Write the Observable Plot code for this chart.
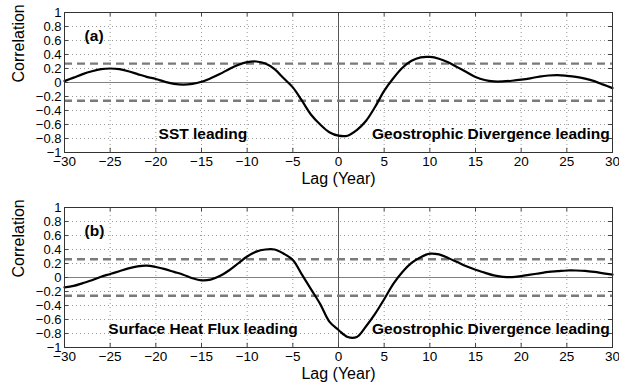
<!DOCTYPE html>
<html><head><meta charset="utf-8">
<script src="https://cdn.jsdelivr.net/npm/d3@7"></script>
<script src="https://cdn.jsdelivr.net/npm/@observablehq/plot@0.6"></script>
<style>
body{margin:0;background:#fff}
#c{width:619px;height:388px;overflow:hidden}
#c svg{display:block}
</style>
</head><body><div id="c"></div><script>
const lags = [-30,-29,-28,-27,-26,-25,-24,-23,-22,-21,-20,-19,-18,-17,-16,-15,-14,-13,-12,-11,-10,-9,-8,-7,-6,-5,-4,-3,-2,-1,0,1,2,3,4,5,6,7,8,9,10,11,12,13,14,15,16,17,18,19,20,21,22,23,24,25,26,27,28,29,30];
// (a) SST vs Geostrophic Divergence
const corrA = [0.02,0.07,0.12,0.16,0.19,0.20,0.19,0.16,0.12,0.08,0.05,0.01,-0.02,-0.03,-0.02,0.01,0.06,0.12,0.19,0.25,0.29,0.30,0.27,0.19,0.06,-0.07,-0.26,-0.46,-0.60,-0.71,-0.76,-0.76,-0.68,-0.55,-0.35,-0.12,0.06,0.21,0.31,0.36,0.365,0.34,0.29,0.22,0.15,0.08,0.035,0.015,0.015,0.025,0.04,0.06,0.085,0.10,0.105,0.095,0.08,0.055,0.02,-0.03,-0.08];
// (b) Surface Heat Flux vs Geostrophic Divergence
const corrB = [-0.14,-0.12,-0.08,-0.04,0.01,0.05,0.09,0.13,0.16,0.17,0.15,0.12,0.08,0.04,-0.01,-0.04,-0.03,0.02,0.10,0.20,0.30,0.37,0.40,0.40,0.34,0.25,0.04,-0.17,-0.38,-0.63,-0.75,-0.85,-0.85,-0.70,-0.52,-0.31,-0.09,0.08,0.21,0.29,0.34,0.33,0.28,0.22,0.16,0.11,0.07,0.03,0.01,0.005,0.02,0.04,0.06,0.08,0.09,0.10,0.10,0.095,0.08,0.06,0.04];
const thresholdsA = [0.27,-0.26];
const thresholdsB = [0.26,-0.26];
const xTicks = [-30,-25,-20,-15,-10,-5,0,5,10,15,20,25,30];
const yTicks = [-1,-0.8,-0.6,-0.4,-0.2,0,0.2,0.4,0.6,0.8,1];
const gridY = [-0.8,-0.6,-0.4,-0.2,0.2,0.4,0.6,0.8];
const gridX = [-25,-20,-15,-10,-5,5,10,15,20,25];
const panelTags = ["(a)","(b)"];
const leftLabels = ["SST leading","Surface Heat Flux leading"];
const rightLabel = "Geostrophic Divergence leading";
const xLabel = "Lag (Year)";
const yLabel = "Correlation";

const FONT = "'Liberation Sans', Arial, Helvetica, sans-serif";
const fmt = d3.format("~g");

function panel(values, thresholds, tag, leftText, leftX, mt, mb) {
  const data = lags.map((l, i) => ({lag: l, r: values[i]}));
  return Plot.plot({
    width: 619, height: 194,
    marginLeft: 64, marginRight: 7, marginTop: mt, marginBottom: mb,
    style: {fontFamily: FONT, fontSize: "14px", color: "#000", background: "#fff", overflow: "visible"},
    x: {domain: [-30, 30], label: null},
    y: {domain: [-1, 1], label: null},
    marks: [
      Plot.ruleX(gridX, {stroke: "#999", strokeWidth: 1, strokeDasharray: "1,3"}),
      Plot.ruleY(gridY, {stroke: "#999", strokeWidth: 1, strokeDasharray: "1,3"}),
      Plot.ruleY([0], {stroke: "#808080", strokeWidth: 1}),
      Plot.ruleX([0], {stroke: "#555", strokeWidth: 1}),
      Plot.ruleY(thresholds, {stroke: "#7a7a7a", strokeWidth: 2.4, strokeDasharray: "8,5"}),
      Plot.ruleX(xTicks, {y1: -1, y2: -0.94, stroke: "#444"}),
      Plot.ruleX(xTicks, {y1: 1, y2: 0.94, stroke: "#444"}),
      Plot.ruleY(yTicks, {x1: -30, x2: -29.55, stroke: "#444"}),
      Plot.ruleY(yTicks, {x1: 30, x2: 29.55, stroke: "#444"}),
      Plot.line(data, {x: "lag", y: "r", curve: "catmull-rom", stroke: "#000", strokeWidth: 2.2}),
      Plot.text([tag], {x: -27.8, y: 0.67, textAnchor: "start", fontWeight: "bold", fontSize: 15.5}),
      Plot.text([leftText], {x: leftX, y: -0.73, textAnchor: "start", fontWeight: "bold", fontSize: 15.5}),
      Plot.text([rightLabel], {x: 29.7, y: -0.73, textAnchor: "end", fontWeight: "bold", fontSize: 15.5}),
      Plot.axisX(xTicks, {tickSize: 0, tickPadding: 4, label: null, fontSize: 13.5, tickFormat: fmt}),
      Plot.axisY(yTicks, {tickSize: 0, tickPadding: 3, label: null, fontSize: 13, tickFormat: fmt}),
      Plot.text([xLabel], {frameAnchor: "bottom", dy: 31, fontSize: 16}),
      Plot.text([yLabel], {frameAnchor: "left", rotate: -90, dx: -46, fontSize: 16}),
      Plot.frame({stroke: "#333", strokeWidth: 1})
    ]
  });
}

const c = document.getElementById("c");
c.append(panel(corrA, thresholdsA, panelTags[0], leftLabels[0], -19.7, 12, 42));
c.append(panel(corrB, thresholdsB, panelTags[1], leftLabels[1], -25.2, 13, 41));
</script></body></html>
